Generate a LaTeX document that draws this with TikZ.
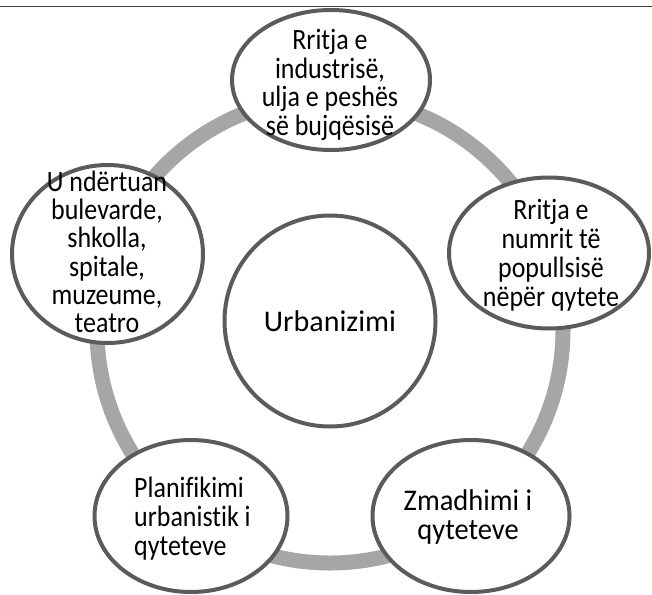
\documentclass[tikz,border=0pt]{standalone}
\usepackage{fontspec}
\setmainfont{Carlito}[Ligatures=NoCommon]
\newfontfamily\bubblefont{Carlito}[FakeStretch=0.88,Ligatures=NoCommon]
\newfontfamily\widebubblefont{Carlito}[FakeStretch=0.95,Ligatures=NoCommon]
\usetikzlibrary{shapes.geometric}
\definecolor{ringfill}{HTML}{A6A6A6}
\definecolor{bubbleline}{HTML}{5B5B5B}
\definecolor{ruleline}{HTML}{3A3A3A}
\begin{document}
\begin{tikzpicture}[x=1pt,y=-1pt,
 every node/.style={inner sep=0pt},
 bubble/.style={ellipse,draw=bubbleline,fill=white,line width=4pt},
 txt/.style={font=\bubblefont\fontsize{29.5}{29}\selectfont,align=center},
 ring/.style={draw=ringfill,line width=15pt}]
\useasboundingbox (0,0) rectangle (652,594);
\coordinate (ruleL) at (0,6.5);
\coordinate (ruleR) at (652,6.5);
\coordinate (hub) at (330,330);
\draw[ring] (hub) circle[radius=233pt];
\node[bubble,minimum width=198pt,minimum height=140pt] (industry) at (331,80) {};
\node[bubble,minimum width=200pt,minimum height=151pt] (population) at (549,253) {};
\node[bubble,minimum width=197pt,minimum height=152pt] (growth) at (471,516) {};
\node[bubble,minimum width=193pt,minimum height=152pt] (planning) at (191,516) {};
\node[bubble,minimum width=191pt,minimum height=178pt] (buildings) at (107.5,254) {};
\node[bubble,minimum width=211pt,minimum height=211pt] (core) at (330,321) {};
\node[txt,font=\bubblefont\fontsize{29.5}{28.5}\selectfont] (industrytxt) at (330,85) {Rritja e\\industrisë,\\ulja e peshës\\së bujqësisë};
\node[txt] (populationtxt) at (551,255) {Rritja e\\numrit të\\popullsisë\\nëpër qytete};
\node[txt,font=\widebubblefont\fontsize{30}{29}\selectfont] (growthtxt) at (468,517) {Zmadhimi i\\qyteteve};
\node[txt,align=left,anchor=west] (planningtxt) at (134,519) {Planifikimi\\urbanistik i\\qyteteve};
\node[txt,font=\bubblefont\fontsize{29.5}{28.3}\selectfont] (buildingstxt) at (107,252) {U ndërtuan\\bulevarde,\\shkolla,\\spitale,\\muzeume,\\teatro};
\node[font=\fontsize{30}{34}\selectfont] (coretxt) at (330,321) {Urbanizimi};
\draw[draw=ruleline,line width=1.5pt] (ruleL) -- (ruleR);
\end{tikzpicture}
\end{document}
